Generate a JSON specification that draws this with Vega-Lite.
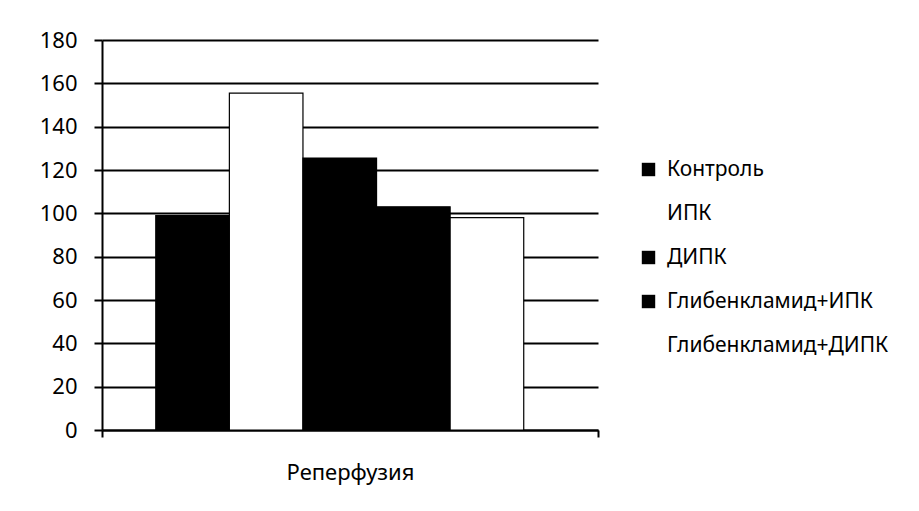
{
  "$schema": "https://vega.github.io/schema/vega-lite/v6.json",
  "autosize": {"type": "none"},
  "width": 496,
  "height": 390,
  "padding": {"left": 102, "top": 40, "right": 321, "bottom": 81},
  "background": "white",
  "config": {
    "view": {"stroke": null},
    "font": "Noto Sans",
    "axis": {"labelFont": "Noto Sans", "labelColor": "black"},
    "legend": {"labelFont": "Noto Sans"}
  },
  "data": {
    "values": [
      {"phase": "Реперфузия", "group": "Контроль", "value": 99},
      {"phase": "Реперфузия", "group": "ИПК", "value": 155.5},
      {"phase": "Реперфузия", "group": "ДИПК", "value": 125.5},
      {"phase": "Реперфузия", "group": "Глибенкламид+ИПК", "value": 103},
      {"phase": "Реперфузия", "group": "Глибенкламид+ДИПК", "value": 98}
    ]
  },
  "mark": {"type": "bar", "stroke": "black", "strokeWidth": 1.2},
  "encoding": {
    "x": {
      "field": "phase",
      "type": "nominal",
      "title": null,
      "scale": {"paddingInner": 0, "paddingOuter": 0},
      "axis": {
        "labelAngle": 0,
        "labelFontSize": 22,
        "labelPadding": 25,
        "tickBand": "extent",
        "tickSize": 7,
        "tickWidth": 2,
        "tickColor": "black",
        "domainColor": "black",
        "domainWidth": 2
      }
    },
    "xOffset": {
      "field": "group",
      "type": "nominal",
      "sort": ["Контроль", "ИПК", "ДИПК", "Глибенкламид+ИПК", "Глибенкламид+ДИПК"],
      "scale": {"paddingInner": 0, "paddingOuter": 0.87, "align": 0.42}
    },
    "y": {
      "field": "value",
      "type": "quantitative",
      "title": null,
      "scale": {"domain": [0, 180], "nice": false},
      "axis": {
        "values": [0, 20, 40, 60, 80, 100, 120, 140, 160, 180],
        "labelFontSize": 22,
        "labelPadding": 17,
        "tickSize": 8,
        "tickWidth": 2,
        "tickColor": "black",
        "domainColor": "black",
        "domainWidth": 2,
        "grid": true,
        "gridColor": "black",
        "gridWidth": 2,
        "gridOpacity": 1
      }
    },
    "fill": {
      "field": "group",
      "type": "nominal",
      "sort": ["Контроль", "ИПК", "ДИПК", "Глибенкламид+ИПК", "Глибенкламид+ДИПК"],
      "scale": {
        "domain": ["Контроль", "ИПК", "ДИПК", "Глибенкламид+ИПК", "Глибенкламид+ДИПК"],
        "range": ["black", "white", "black", "black", "white"]
      },
      "legend": {
        "title": null,
        "orient": "none",
        "legendX": 536,
        "legendY": 119,
        "symbolType": "square",
        "symbolSize": 180,
        "symbolStrokeWidth": 0,
        "labelFontSize": 21,
        "labelColor": "black",
        "labelOffset": 8,
        "labelLimit": 300,
        "rowPadding": 22
      }
    }
  }
}
